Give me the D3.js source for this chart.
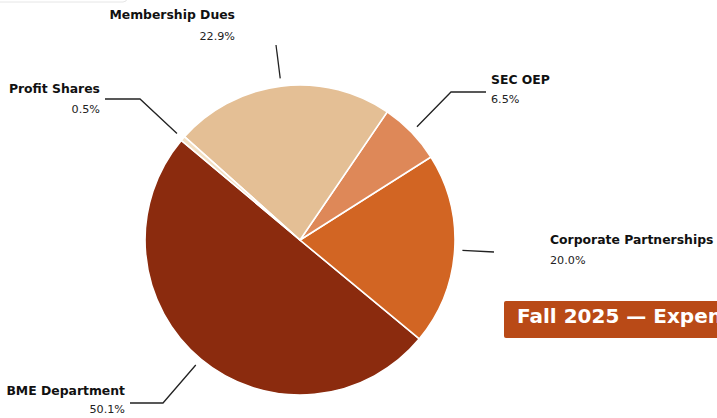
<!DOCTYPE html>
<html>
<head>
<meta charset="utf-8">
<style>
body { margin: 0; background: #fff; overflow: hidden; }
text { font-family: "DejaVu Sans", sans-serif; }
.lbl { font-weight: bold; font-size: 12.4px; fill: #111; }
.pct { font-size: 11.2px; fill: #222; }
.lead { fill: none; stroke: #222; stroke-width: 1.3px; }
</style>
</head>
<body>
<script src="https://cdn.jsdelivr.net/npm/d3@7"></script>
<script>
// slices in drawing order (counter-clockwise from 140deg)
var categories = ["BME Department", "Corporate Partnerships", "SEC OEP", "Membership Dues", "Profit Shares"];
var values = [50.1, 20.0, 6.5, 22.9, 0.5];
var colors = ["#8b2b0e", "#d26523", "#de8858", "#e4bf95", "#f3e0c4"];
var title = "Fall 2025 \u2014 Expense Funding Breakdown";

var width = 717, height = 418;
var cx = 300, cy = 240, radius = 155;

var svg = d3.select("body").append("svg")
    .attr("width", width)
    .attr("height", height);

// faint box edge peeking in at top left
svg.append("rect")
    .attr("x", -10).attr("y", -30)
    .attr("width", 137).attr("height", 32)
    .attr("rx", 4)
    .attr("fill", "none")
    .attr("stroke", "#e6e6e6");

var start = (90 - 140) * Math.PI / 180;
var pie = d3.pie().sort(null)
    .startAngle(start)
    .endAngle(start - 2 * Math.PI);

var arc = d3.arc().innerRadius(0).outerRadius(radius);

var g = svg.append("g").attr("transform", "translate(" + cx + "," + cy + ")");

var arcs = pie(values);

g.selectAll("path.slice")
    .data(arcs)
    .enter().append("path")
    .attr("class", "slice")
    .attr("d", arc)
    .attr("fill", function(d, i) { return colors[i]; })
    .attr("stroke", "#fff")
    .attr("stroke-width", 1.6);

// label placement relative to centre: text x, label baseline, pct baseline, elbow, tail end
var labelPos = [
  {tx: -175, ly: 155, py: 173, anchor: "end", elbow: [-137, 163], tail: -170},
  {tx: 250, ly: 4, py: 24, anchor: "start", elbow: [194, 12], tail: 194},
  {tx: 191, ly: -156, py: -137, anchor: "start", elbow: [151, -148], tail: 186},
  {tx: -65, ly: -221, py: -200, anchor: "end", elbow: [-24, -195], tail: -24},
  {tx: -200, ly: -147, py: -127, anchor: "end", elbow: [-160, -141], tail: -195}
];

arcs.forEach(function(d, i) {
  var p = labelPos[i];
  var mid = (d.startAngle + d.endAngle) / 2;
  var r0 = radius * 1.05;
  var x0 = Math.sin(mid) * r0, y0 = -Math.cos(mid) * r0;
  var ex = p.elbow[0], ey = p.elbow[1];
  g.append("path")
      .attr("class", "lead")
      .attr("d", "M" + x0 + "," + y0 + "L" + ex + "," + ey + "L" + p.tail + "," + ey);
  g.append("text")
      .attr("class", "lbl")
      .attr("x", p.tx).attr("y", p.ly)
      .attr("text-anchor", p.anchor)
      .text(categories[i]);
  g.append("text")
      .attr("class", "pct")
      .attr("x", p.tx).attr("y", p.py)
      .attr("text-anchor", p.anchor)
      .text(d3.format(".1f")(values[i]) + "%");
});

// title banner, runs off the right edge
var tb = svg.append("g").attr("transform", "translate(504,301)");
tb.append("rect")
    .attr("width", 340).attr("height", 37)
    .attr("rx", 2)
    .attr("fill", "#b94a17");
tb.append("text")
    .attr("x", 13).attr("y", 22)
    .attr("fill", "#fff")
    .attr("font-weight", "bold")
    .attr("font-size", "20px")
    .text(title);
</script>
</body>
</html>
